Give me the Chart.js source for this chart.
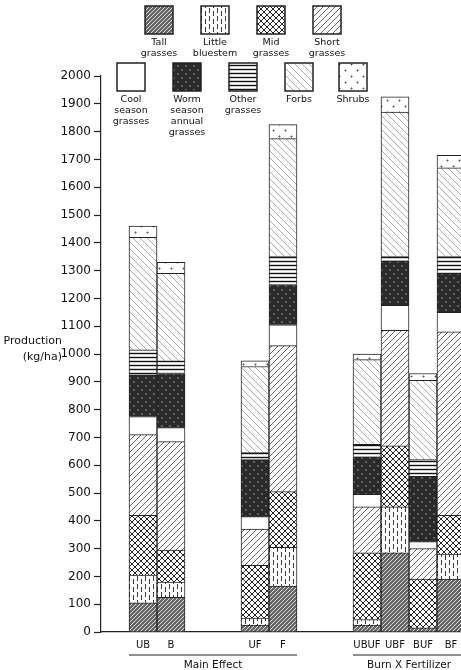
<!DOCTYPE html>
<html>
<head>
<meta charset="utf-8">
<script src="https://cdn.jsdelivr.net/npm/chart.js@4/dist/chart.umd.min.js"></script>
<style>
    html, body { margin: 0; padding: 0; background: #fff; overflow: hidden; }
    #wrap { position: absolute; left: 0; top: 0; width: 470px; height: 670px; }
</style>
</head>
<body>
<div id="wrap"><canvas id="chart" width="470" height="670"></canvas></div>
<script>
// treatments (blank slots are the gaps between groups)
const categories = ['', 'UB', 'B', '', '', 'UF', 'F', '', '', 'UBUF', 'UBF', 'BUF', 'BF'];
const groupNames = ['Main Effect', 'Burn X Fertilizer'];
const groupRanges = [[1, 6], [9, 12]];

const seriesNames = ['Tall grasses', 'Little bluestem', 'Mid grasses', 'Short grasses',
    'Cool season grasses', 'Worm season annual grasses', 'Other grasses', 'Forbs', 'Shrubs'];

// kg/ha, stacked from the bottom
const tallGrasses    = [null, 105, 125, null, null,  25, 165, null, null,  25, 285,  15, 190];
const littleBluestem = [null, 100,  55, null, null,  25, 140, null, null,  20, 165,   0,  90];
const midGrasses     = [null, 215, 115, null, null, 190, 200, null, null, 240, 220, 175, 140];
const shortGrasses   = [null, 290, 390, null, null, 130, 525, null, null, 165, 415, 110, 660];
const coolSeason     = [null,  65,  50, null, null,  45,  75, null, null,  45,  90,  25,  70];
const warmAnnual     = [null, 150, 195, null, null, 205, 145, null, null, 135, 160, 235, 140];
const otherGrasses   = [null,  90,  45, null, null,  25, 100, null, null,  45,  15,  60,  60];
const forbs          = [null, 405, 315, null, null, 310, 425, null, null, 305, 520, 285, 320];
const shrubs         = [null,  40,  40, null, null,  20,  50, null, null,  20,  55,  25,  45];

const yTicks = [0, 100, 200, 300, 400, 500, 600, 700, 800, 900, 1000,
    1100, 1200, 1300, 1400, 1500, 1600, 1700, 1800, 1900, 2000];

// fill patterns
function tile(size, bg, fg, lw, draw) {
    const c = document.createElement('canvas');
    c.width = size; c.height = size;
    const g = c.getContext('2d');
    g.fillStyle = bg;
    g.fillRect(0, 0, size, size);
    g.strokeStyle = fg;
    g.fillStyle = fg;
    g.lineWidth = lw;
    g.beginPath();
    draw(g, size);
    g.stroke();
    return g.createPattern(c, 'repeat');
}
const slash = (g, s) => { [-s, 0, s].forEach(k => { g.moveTo(k, s); g.lineTo(k + s, 0); }); };
const backslash = (g, s) => { [-s, 0, s].forEach(k => { g.moveTo(k, 0); g.lineTo(k + s, s); }); };

const patterns = [
    tile(4, '#666', '#dadada', 1, slash),
    tile(8, '#fff', '#3a3a3a', 1, (g) => { g.moveTo(1.5, 0); g.lineTo(1.5, 5); g.moveTo(5.5, 3); g.lineTo(5.5, 8); }),
    tile(6, '#fff', '#222', 1, (g, s) => { slash(g, s); backslash(g, s); }),
    tile(6, '#fff', '#666', 1, slash),
    '#ffffff',
    tile(8, '#2a2a2a', '#9a9a9a', 1, (g) => { g.moveTo(2, 1); g.lineTo(2, 3); g.moveTo(6, 5); g.lineTo(6, 7); }),
    tile(4, '#fff', '#111', 1.4, (g, s) => { g.moveTo(0, 1.5); g.lineTo(s, 1.5); }),
    tile(7, '#fff', '#aaa', 1, backslash),
    tile(12, '#fff', '#555', 1, (g) => { g.rect(3, 4, 1, 1); g.rect(9, 10, 1, 1); })
];
const seriesData = [tallGrasses, littleBluestem, midGrasses, shortGrasses,
    coolSeason, warmAnnual, otherGrasses, forbs, shrubs];

// legend layout: centre x, box top
const legendSpots = [[159, 6], [215, 6], [271, 6], [327, 6],
    [131, 63], [187, 63], [243, 63], [299, 63], [353, 63]];

const extras = {
    id: 'extras',
    afterDraw(chart) {
        const ctx = chart.ctx;
        const x = chart.scales.x;
        ctx.save();
        // legend
        ctx.textAlign = 'center';
        ctx.textBaseline = 'middle';
        ctx.font = '9.5px "DejaVu Sans"';
        seriesNames.forEach((name, i) => {
            const [cx, top] = legendSpots[i];
            ctx.fillStyle = patterns[i];
            ctx.fillRect(cx - 14, top, 28, 28);
            ctx.strokeStyle = '#222';
            ctx.lineWidth = 1.5;
            ctx.strokeRect(cx - 14, top, 28, 28);
            ctx.fillStyle = '#111';
            name.split(' ').forEach((w, j) => ctx.fillText(w, cx, top + 37 + j * 11));
        });
        // y title
        ctx.fillStyle = '#111';
        ctx.font = '11px "DejaVu Sans"';
        ctx.textAlign = 'right';
        ctx.fillText('Production', 62, 341);
        ctx.fillText('(kg/ha)', 62, 357);
        // group lines + names
        ctx.textAlign = 'center';
        ctx.font = '10.5px "DejaVu Sans"';
        ctx.strokeStyle = '#222';
        ctx.lineWidth = 1.2;
        groupRanges.forEach((r, i) => {
            const x0 = x.getPixelForValue(r[0]) - 14;
            const x1 = x.getPixelForValue(r[1]) + 14;
            ctx.beginPath();
            ctx.moveTo(x0, 655);
            ctx.lineTo(x1, 655);
            ctx.stroke();
            ctx.fillText(groupNames[i], (x0 + x1) / 2, 665);
        });
        ctx.restore();
    }
};

new Chart(document.getElementById('chart'), {
    type: 'bar',
    data: {
        labels: categories,
        datasets: seriesData.map((d, i) => ({
            label: seriesNames[i],
            data: d,
            backgroundColor: patterns[i],
            borderColor: '#222',
            borderWidth: 1,
            barPercentage: 1,
            categoryPercentage: 1
        }))
    },
    options: {
        responsive: false,
        animation: false,
        layout: { padding: { top: 76, right: 5, left: 0, bottom: 0 } },
        plugins: {
            legend: { display: false },
            tooltip: { enabled: false }
        },
        scales: {
            x: {
                stacked: true,
                afterFit: (s) => { s.height = 38; },
                grid: { display: false, drawTicks: false },
                border: { display: true, color: '#222', width: 1.2 },
                ticks: {
                    padding: 7,
                    color: '#111',
                    font: { family: 'DejaVu Sans', size: 10 },
                    autoSkip: false,
                    maxRotation: 0
                }
            },
            y: {
                stacked: true,
                min: 0,
                max: 2000,
                afterFit: (s) => { s.width = 101; },
                afterBuildTicks: (s) => { s.ticks = yTicks.map(v => ({ value: v })); },
                grid: { drawOnChartArea: false, tickLength: 7, tickColor: '#222', tickWidth: 1.2 },
                border: { display: true, color: '#222', width: 1.2 },
                ticks: {
                    padding: 3,
                    color: '#111',
                    font: { family: 'DejaVu Sans', size: 12 },
                    callback: function (value) {
                        return String(value);
                    }
                }
            }
        }
    },
    plugins: [extras]
});
</script>
</body>
</html>
